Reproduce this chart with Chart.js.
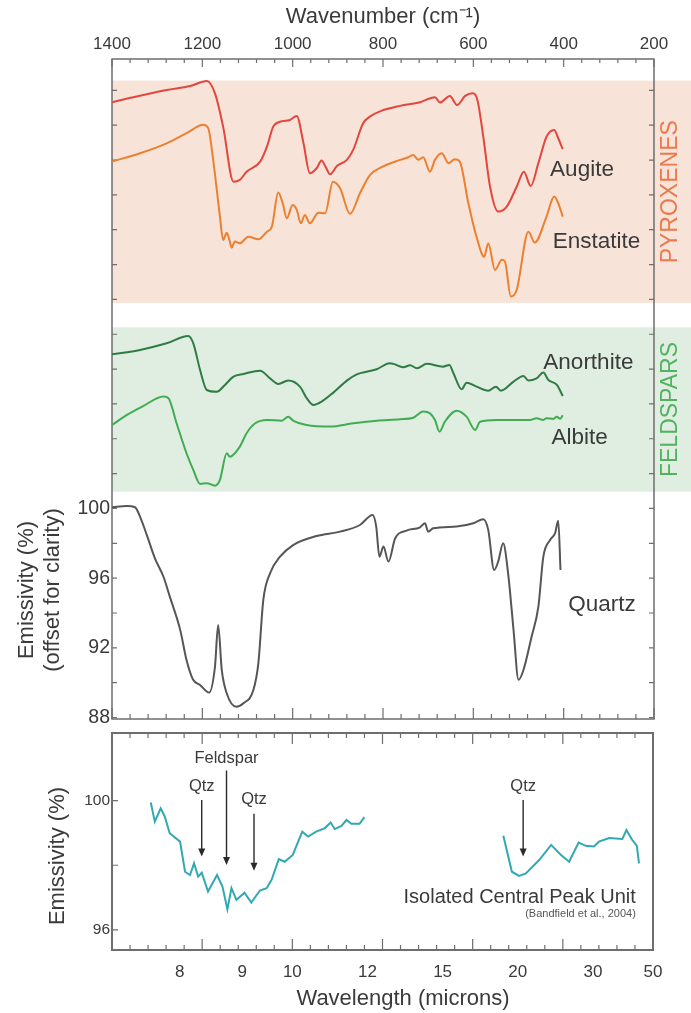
<!DOCTYPE html>
<html>
<head>
<meta charset="utf-8">
<script src="https://cdn.jsdelivr.net/npm/chart.js@4.4.1/dist/chart.umd.min.js"></script>
<style>
  html, body { margin: 0; padding: 0; background: #ffffff; }
  #wrap { position: relative; width: 691px; height: 1013px; }
  #labBox { position: absolute; left: 0; top: 0; width: 691px; height: 726px; }
  #icpuBox { position: absolute; left: 0; top: 726px; width: 691px; height: 287px; }
</style>
</head>
<body>
<div id="wrap">
  <div id="labBox"><canvas id="labChart"></canvas></div>
  <div id="icpuBox"><canvas id="icpuChart"></canvas></div>
</div>
<script>
// ---------- laboratory spectra (wavenumber in cm-1, emissivity in % with offsets) ----------
const augiteWn = [1400,1353,1279,1227,1190,1172,1154,1131,1117,1102,1072,1057,1043,1028,1006,991,976,962,947,936,928,917,902,880,866,844,829,804,762,718,685,674,652,636,618,601,591,578,563,545,526,504,488,473,456,438,421,412,402];
const augiteEm = [123.32,123.61,124.02,124.25,124.54,123.83,121.92,118.76,118.86,119.33,119.91,120.77,121.92,122.20,122.30,122.53,120.96,119.24,119.53,119.97,119.66,119.18,119.66,120.01,120.58,122.11,122.49,122.82,123.11,123.32,123.61,123.30,123.68,123.16,123.68,123.83,123.45,121.34,118.47,117.04,117.33,118.47,119.33,118.51,119.82,121.34,121.73,121.25,120.62];

const enstatiteWn = [1400,1338,1279,1235,1198,1187,1176,1161,1154,1146,1140,1135,1128,1117,1098,1076,1057,1046,1032,1022,1013,1000,991,982,973,962,943,928,911,895,873,851,829,804,762,744,733,722,711,696,685,670,655,641,630,611,593,576,567,552,537,530,517,504,478,464,438,421,412,402];
const enstatiteEm = [119.91,120.39,120.96,121.54,122.02,121.83,120.01,116.75,115.41,115.83,115.41,114.97,115.32,115.22,115.60,115.45,115.89,116.18,118.13,117.52,116.66,117.42,117.14,116.37,116.85,116.37,116.98,116.95,118.76,118.38,116.91,118.09,119.14,119.58,120.01,120.16,120.29,120.01,120.16,119.33,120.01,120.39,119.82,120.05,119.91,117.52,115.60,114.45,115.22,113.69,114.27,114.17,112.16,112.54,115.89,115.26,116.75,117.90,117.52,116.75];

const anorthiteWn = [1400,1338,1279,1231,1220,1205,1190,1168,1150,1131,1109,1072,1050,1032,1010,984,969,954,936,910,880,858,814,785,777,755,740,725,703,667,653,644,626,615,593,567,550,539,511,489,478,460,445,434,415,402];
const anorthiteEm = [108.85,109.10,109.48,109.90,109.48,107.95,106.80,106.70,107.09,107.57,107.72,107.91,107.47,107.15,107.34,106.99,106.33,105.94,106.13,106.65,107.34,107.70,107.99,108.34,108.30,108.11,108.22,108.05,108.30,108.14,108.24,107.76,106.84,107.22,106.99,106.76,106.99,106.76,107.28,107.61,107.34,107.47,107.80,107.38,107.09,106.46];

const albiteWn = [1400,1367,1331,1286,1275,1257,1235,1220,1205,1190,1172,1161,1146,1139,1117,1102,1083,1057,1024,1010,999,969,917,866,814,762,733,711,696,685,675,663,637,615,596,585,548,511,475,460,445,438,423,415,408,402];
const albiteEm = [104.79,105.37,105.88,106.42,106.33,104.89,103.17,102.21,101.41,101.45,101.31,101.64,103.17,102.97,103.55,104.32,104.89,105.08,105.04,105.27,105.04,104.79,104.70,104.89,105.04,105.12,105.21,105.56,105.46,105.08,104.41,104.98,105.61,105.27,104.51,104.98,105.08,105.08,105.08,105.18,105.08,105.18,105.14,105.27,105.15,105.35];

const quartzWn = [1400,1367,1349,1338,1323,1305,1286,1272,1249,1235,1221,1205,1185,1172,1165,1157,1146,1125,1109,1087,1076,1065,1050,1028,999,947,895,851,823,815,808,799,788,773,748,718,707,700,689,637,600,578,567,554,545,534,523,511,500,489,471,456,445,430,419,412,407];
const quartzEm = [100.07,100.14,100.07,99.53,98.48,97.14,96.08,94.94,93.03,91.30,90.20,89.87,89.43,90.92,93.31,90.73,89.39,88.62,88.82,89.58,91.11,94.75,96.28,97.23,97.90,98.42,98.67,99.05,99.63,98.96,97.23,97.81,96.95,98.29,98.73,98.92,99.15,98.67,98.86,98.96,99.15,99.38,98.77,96.47,96.95,98.00,96.28,93.03,90.16,90.73,92.64,94.36,97.23,98.19,98.58,99.30,96.47];

// ---------- Isolated Central Peak Unit spectrum (gap where no data) ----------
const icpuWn = [1314,1305,1292,1283,1272,1249,1238,1227,1218,1209,1201,1187,1167,1155,1144,1135,1124,1106,1091,1072,1057,1046,1030,1017,999,978,965,947,928,915,906,891,880,869,851,840,
                700,
                532,513,497,482,452,426,404,386,365,349,331,320,297,268,259,246,236,231];
const icpuEm = [99.94,99.35,99.76,99.51,98.99,98.73,97.80,97.70,98.06,97.65,97.77,97.19,97.70,97.34,96.64,97.29,96.93,97.15,96.85,97.22,97.29,97.55,98.19,98.11,98.32,99.04,98.89,99.04,99.15,99.32,99.12,99.22,99.40,99.28,99.28,99.49,
                null,
                98.91,97.80,97.67,97.75,98.17,98.63,98.32,98.11,98.70,98.60,98.58,98.73,98.84,98.81,99.09,98.78,98.61,98.06];

// ---------- series names and label anchors ----------
const labSeriesNames = ['Augite', 'Enstatite', 'Anorthite', 'Albite', 'Quartz'];
const labLabelWn = [430, 424, 445, 427, 390];
const labLabelEm = [119.43, 115.32, 108.34, 104.03, 94.46];

// ---------- mineral group bands ----------
const bandNames = ['PYROXENES', 'FELDSPARS'];
const bandTops = [124.56, 110.40];
const bandBottoms = [111.80, 100.96];

// ---------- axes ----------
const wavenumberMin = 200, wavenumberMax = 1400;
const wavenumberLabelStep = 200;
const wavenumberTickStep = 40;
const labEmRange = [87.914, 125.80];
const labEmTickLabels = [88, 92, 96, 100];
const labEmTickMarks = [88,90,92,94,96,98,100,102,104,106,108,110,112,114,116,118,120,122,124];
const icpuEmRange = [95.38, 102.09];
const icpuEmTickLabels = [96, 100];
const icpuEmTickMarks = [96, 98, 100];
const wavelengthTickLabels = [8, 9, 10, 12, 15, 20, 30, 50];

// ---------- band assignments marked on the ICPU spectrum ----------
const featureNames = ['Qtz', 'Feldspar', 'Qtz', 'Qtz'];
const featureWn = [1201, 1146, 1085, 488];
const featureTextEm = [100.45, 101.31, 100.02, 100.45];
const featureTopEm = [100.02, 100.93, 99.59, 100.02];
const featureTipEm = [98.27, 98.01, 97.83, 98.27];

// ---------- styling ----------
const FONT = "'Liberation Sans', Arial, Helvetica, sans-serif";
const INK = '#3a3a3a';
const FRAME = '#6e6e6e';
const seriesColors = ['#e2463d', '#eb8030', '#2f7b45', '#40ad52', '#565656'];
const bandFills = ['#f8e3d8', '#dfeee1'];
const bandInks = ['#ea7a4e', '#51b360'];
const icpuColor = '#31a9b2';

function pairs(xs, ys) { return xs.map((v, i) => ({ x: v, y: ys[i] })); }

function wavenumberTicks(ctx, x, yEdge, dir, majorLen, minorLen) {
  for (let v = wavenumberMin; v <= wavenumberMax; v += wavenumberTickStep) {
    const px = x.getPixelForValue(v);
    const len = (v % wavenumberLabelStep === 0) ? majorLen : minorLen;
    ctx.moveTo(px, yEdge);
    ctx.lineTo(px, yEdge + dir * len);
  }
}

function rotatedText(ctx, text, cx, cy, font, color) {
  ctx.save();
  ctx.translate(cx, cy);
  ctx.rotate(-Math.PI / 2);
  ctx.font = font;
  ctx.fillStyle = color;
  ctx.textAlign = 'center';
  ctx.textBaseline = 'middle';
  ctx.fillText(text, 0, 0);
  ctx.restore();
}

// ---------- decoration for the laboratory spectra panel ----------
const labDecor = {
  id: 'labDecor',
  beforeDatasetsDraw(chart) {
    const { ctx, chartArea: a, scales: { x, y } } = chart;
    ctx.save();
    bandNames.forEach((name, i) => {
      const y1 = y.getPixelForValue(bandTops[i]);
      const y2 = y.getPixelForValue(bandBottoms[i]);
      ctx.fillStyle = bandFills[i];
      ctx.fillRect(a.left, y1, chart.width - a.left, y2 - y1);
      rotatedText(ctx, name, a.right + 17, (y1 + y2) / 2, `23px ${FONT}`, bandInks[i]);
    });

    ctx.strokeStyle = FRAME;
    ctx.lineWidth = 1.5;
    ctx.strokeRect(a.left, a.top, a.right - a.left, a.bottom - a.top);

    ctx.lineWidth = 1.2;
    ctx.beginPath();
    wavenumberTicks(ctx, x, a.top, 1, 8, 4);
    wavenumberTicks(ctx, x, a.bottom, -1, 11, 5);
    labEmTickMarks.forEach(v => {
      const py = y.getPixelForValue(v);
      ctx.moveTo(a.left, py); ctx.lineTo(a.left + 5, py);
      ctx.moveTo(a.right, py); ctx.lineTo(a.right - 5, py);
    });
    ctx.stroke();

    // y-axis title (two lines, rotated)
    rotatedText(ctx, 'Emissivity (%)', 27, 590, `22px ${FONT}`, INK);
    rotatedText(ctx, '(offset for clarity)', 53, 590, `22px ${FONT}`, INK);
    ctx.restore();
  },
  afterDatasetsDraw(chart) {
    const { ctx, scales: { x, y } } = chart;
    ctx.save();
    ctx.font = `22.5px ${FONT}`;
    ctx.fillStyle = INK;
    ctx.textAlign = 'left';
    ctx.textBaseline = 'middle';
    labSeriesNames.forEach((name, i) => {
      ctx.fillText(name, x.getPixelForValue(labLabelWn[i]), y.getPixelForValue(labLabelEm[i]));
    });
    ctx.restore();
  }
};

// ---------- decoration for the ICPU panel ----------
const icpuDecor = {
  id: 'icpuDecor',
  beforeDatasetsDraw(chart) {
    const { ctx, chartArea: a, scales: { x, y } } = chart;
    ctx.save();
    ctx.strokeStyle = FRAME;
    ctx.lineWidth = 2;
    ctx.strokeRect(a.left, a.top, a.right - a.left, a.bottom - a.top);

    ctx.lineWidth = 1.2;
    ctx.beginPath();
    wavenumberTicks(ctx, x, a.top, 1, 11, 5);
    wavenumberTicks(ctx, x, a.bottom, -1, 11, 5);
    icpuEmTickMarks.forEach(v => {
      const py = y.getPixelForValue(v);
      ctx.moveTo(a.left, py); ctx.lineTo(a.left + 6, py);
    });
    ctx.stroke();

    rotatedText(ctx, 'Emissivity (%)', 58, 130, `22px ${FONT}`, INK);
    ctx.font = `22px ${FONT}`;
    ctx.fillStyle = INK;
    ctx.textAlign = 'center';
    ctx.textBaseline = 'middle';
    ctx.fillText('Wavelength (microns)', 403, 273);
    ctx.restore();
  },
  afterDatasetsDraw(chart) {
    const { ctx, scales: { x, y } } = chart;
    ctx.save();
    // feature arrows
    featureNames.forEach((name, i) => {
      const px = x.getPixelForValue(featureWn[i]);
      const yText = y.getPixelForValue(featureTextEm[i]);
      const yTop = y.getPixelForValue(featureTopEm[i]);
      const yTip = y.getPixelForValue(featureTipEm[i]);
      ctx.strokeStyle = '#2a2a2a';
      ctx.fillStyle = '#2a2a2a';
      ctx.lineWidth = 1.4;
      ctx.beginPath();
      ctx.moveTo(px, yTop);
      ctx.lineTo(px, yTip - 7);
      ctx.stroke();
      ctx.beginPath();
      ctx.moveTo(px - 3.5, yTip - 8);
      ctx.lineTo(px + 3.5, yTip - 8);
      ctx.lineTo(px, yTip);
      ctx.closePath();
      ctx.fill();
      ctx.font = `16.5px ${FONT}`;
      ctx.fillStyle = INK;
      ctx.textAlign = 'center';
      ctx.textBaseline = 'middle';
      ctx.fillText(name, px, yText);
    });
    // unit name and source
    const xr = x.getPixelForValue(238);
    ctx.textAlign = 'right';
    ctx.textBaseline = 'middle';
    ctx.fillStyle = INK;
    ctx.font = `20px ${FONT}`;
    ctx.fillText('Isolated Central Peak Unit', xr, y.getPixelForValue(96.99));
    ctx.font = `11px ${FONT}`;
    ctx.fillStyle = '#555555';
    ctx.fillText('(Bandfield et al., 2004)', xr, y.getPixelForValue(96.49));
    ctx.restore();
  }
};

function lineSet(label, data, color, width) {
  return {
    label, data,
    borderColor: color,
    borderWidth: width,
    pointRadius: 0,
    fill: false,
    cubicInterpolationMode: 'monotone',
    spanGaps: false
  };
}

Chart.defaults.font.family = FONT;
Chart.defaults.color = INK;

// ---------- laboratory spectra chart ----------
new Chart(document.getElementById('labChart'), {
  type: 'line',
  data: {
    datasets: [
      lineSet('Augite', pairs(augiteWn, augiteEm), seriesColors[0], 2),
      lineSet('Enstatite', pairs(enstatiteWn, enstatiteEm), seriesColors[1], 2),
      lineSet('Anorthite', pairs(anorthiteWn, anorthiteEm), seriesColors[2], 2),
      lineSet('Albite', pairs(albiteWn, albiteEm), seriesColors[3], 2),
      lineSet('Quartz', pairs(quartzWn, quartzEm), seriesColors[4], 2)
    ]
  },
  options: {
    responsive: true,
    maintainAspectRatio: false,
    animation: false,
    layout: { padding: { left: 0, top: 0, right: 37, bottom: 7 } },
    plugins: { legend: { display: false }, tooltip: { enabled: false } },
    scales: {
      x: {
        type: 'linear',
        position: 'top',
        reverse: true,
        min: wavenumberMin,
        max: wavenumberMax,
        grid: { display: false, drawTicks: false },
        border: { display: false },
        ticks: {
          stepSize: wavenumberLabelStep,
          padding: 4,
          maxRotation: 0,
          autoSkip: false,
          color: INK,
          font: { size: 17 },
          callback: v => String(v)
        },
        title: {
          display: true,
          text: 'Wavenumber (cm\u207B\u00B9)',
          color: INK,
          font: { size: 22 },
          padding: { top: 4, bottom: 0 }
        },
        afterFit(s) { s.height = 59; s.paddingLeft = 0; s.paddingRight = 0; }
      },
      y: {
        type: 'linear',
        position: 'left',
        min: labEmRange[0],
        max: labEmRange[1],
        grid: { display: false, drawTicks: false },
        border: { display: false },
        afterBuildTicks(s) { s.ticks = labEmTickLabels.map(v => ({ value: v })); },
        ticks: { padding: 2, color: INK, font: { size: 19.5 }, callback: v => String(v) },
        afterFit(s) { s.width = 112; s.paddingTop = 0; s.paddingBottom = 0; }
      }
    }
  },
  plugins: [labDecor]
});

// ---------- ICPU chart ----------
new Chart(document.getElementById('icpuChart'), {
  type: 'line',
  data: {
    datasets: [
      {
        label: 'Isolated Central Peak Unit',
        data: pairs(icpuWn, icpuEm),
        borderColor: icpuColor,
        borderWidth: 2,
        pointRadius: 0,
        fill: false,
        tension: 0,
        spanGaps: false
      }
    ]
  },
  options: {
    responsive: true,
    maintainAspectRatio: false,
    animation: false,
    layout: { padding: { left: 0, top: 7, right: 38, bottom: 0 } },
    plugins: { legend: { display: false }, tooltip: { enabled: false } },
    scales: {
      x: {
        type: 'linear',
        position: 'bottom',
        reverse: true,
        min: wavenumberMin,
        max: wavenumberMax,
        grid: { display: false, drawTicks: false },
        border: { display: false },
        afterBuildTicks(s) { s.ticks = wavelengthTickLabels.map(w => ({ value: 10000 / w })); },
        ticks: {
          padding: 12,
          maxRotation: 0,
          autoSkip: false,
          color: INK,
          font: { size: 17 },
          callback: v => String(Math.round(10000 / v))
        },
        afterFit(s) { s.height = 63; s.paddingLeft = 0; s.paddingRight = 0; }
      },
      y: {
        type: 'linear',
        position: 'left',
        min: icpuEmRange[0],
        max: icpuEmRange[1],
        grid: { display: false, drawTicks: false },
        border: { display: false },
        afterBuildTicks(s) { s.ticks = icpuEmTickLabels.map(v => ({ value: v })); },
        ticks: { padding: 2, color: INK, font: { size: 15.5 }, callback: v => String(v) },
        afterFit(s) { s.width = 112; s.paddingTop = 0; s.paddingBottom = 0; }
      }
    }
  },
  plugins: [icpuDecor]
});
</script>
</body>
</html>
